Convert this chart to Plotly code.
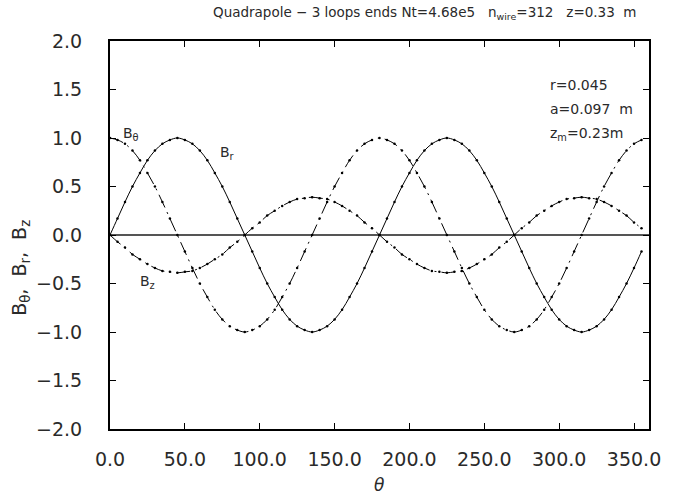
import plotly.graph_objects as go

theta = [0, 5, 10, 15, 20, 25, 30, 35, 40, 45, 50, 55, 60, 65, 70, 75, 80, 85,
         90, 95, 100, 105, 110, 115, 120, 125, 130, 135, 140, 145, 150, 155, 160, 165, 170, 175,
         180, 185, 190, 195, 200, 205, 210, 215, 220, 225, 230, 235, 240, 245, 250, 255, 260, 265,
         270, 275, 280, 285, 290, 295, 300, 305, 310, 315, 320, 325, 330, 335, 340, 345, 350, 355]

B_r = [0.00, 0.17, 0.34, 0.50, 0.64, 0.77, 0.87, 0.94, 0.98, 1.00, 0.98, 0.94, 0.87, 0.77, 0.64, 0.50, 0.34, 0.17,
       0.00, -0.17, -0.34, -0.50, -0.64, -0.77, -0.87, -0.94, -0.98, -1.00, -0.98, -0.94, -0.87, -0.77, -0.64, -0.50, -0.34, -0.17,
       0.00, 0.17, 0.34, 0.50, 0.64, 0.77, 0.87, 0.94, 0.98, 1.00, 0.98, 0.94, 0.87, 0.77, 0.64, 0.50, 0.34, 0.17,
       0.00, -0.17, -0.34, -0.50, -0.64, -0.77, -0.87, -0.94, -0.98, -1.00, -0.98, -0.94, -0.87, -0.77, -0.64, -0.50, -0.34, -0.17]

B_theta = [1.00, 0.98, 0.94, 0.87, 0.77, 0.64, 0.50, 0.34, 0.17, 0.00, -0.17, -0.34, -0.50, -0.64, -0.77, -0.87, -0.94, -0.98,
           -1.00, -0.98, -0.94, -0.87, -0.77, -0.64, -0.50, -0.34, -0.17, 0.00, 0.17, 0.34, 0.50, 0.64, 0.77, 0.87, 0.94, 0.98,
           1.00, 0.98, 0.94, 0.87, 0.77, 0.64, 0.50, 0.34, 0.17, 0.00, -0.17, -0.34, -0.50, -0.64, -0.77, -0.87, -0.94, -0.98,
           -1.00, -0.98, -0.94, -0.87, -0.77, -0.64, -0.50, -0.34, -0.17, 0.00, 0.17, 0.34, 0.50, 0.64, 0.77, 0.87, 0.94, 0.98]

B_z = [0.00, -0.07, -0.13, -0.20, -0.25, -0.30, -0.34, -0.37, -0.38, -0.39, -0.38, -0.37, -0.34, -0.30, -0.25, -0.20, -0.13, -0.07,
       0.00, 0.07, 0.13, 0.20, 0.25, 0.30, 0.34, 0.37, 0.38, 0.39, 0.38, 0.37, 0.34, 0.30, 0.25, 0.20, 0.13, 0.07,
       0.00, -0.07, -0.13, -0.20, -0.25, -0.30, -0.34, -0.37, -0.38, -0.39, -0.38, -0.37, -0.34, -0.30, -0.25, -0.20, -0.13, -0.07,
       0.00, 0.07, 0.13, 0.20, 0.25, 0.30, 0.34, 0.37, 0.38, 0.39, 0.38, 0.37, 0.34, 0.30, 0.25, 0.20, 0.13, 0.07]

x_ticks = [0, 50, 100, 150, 200, 250, 300, 350]
x_tick_text = ["0.0", "50.0", "100.0", "150.0", "200.0", "250.0", "300.0", "350.0"]
y_ticks = [-2.0, -1.5, -1.0, -0.5, 0.0, 0.5, 1.0, 1.5, 2.0]
y_tick_text = ["\u22122.0", "\u22121.5", "\u22121.0", "\u22120.5", "0.0", "0.5", "1.0", "1.5", "2.0"]

FONT = "DejaVu Sans"
TXT = "#2a2a2a"

fig = go.Figure()
styles = [
    (B_r, "solid"),
    (B_theta, "14px,5px,2px,5px"),
    (B_z, "14px,5px,2px,5px"),
]
for vals, dash in styles:
    fig.add_trace(go.Scatter(
        x=theta, y=vals, mode="lines+markers",
        line=dict(color="black", width=1, dash=dash, shape="spline", smoothing=1.0),
        marker=dict(color="black", size=2.5),
        showlegend=False, hoverinfo="skip",
    ))

axis_common = dict(
    showgrid=False, ticks="inside", ticklen=6, tickwidth=1, tickcolor="black",
    showline=True, linecolor="black", linewidth=2, mirror="ticks",
    tickfont=dict(family=FONT, size=19, color=TXT),
)

fig.update_layout(
    width=673, height=494,
    margin=dict(l=110, r=13, t=41, b=65),
    paper_bgcolor="white", plot_bgcolor="white",
    font=dict(family=FONT, color=TXT),
    xaxis=dict(range=[0, 360], tickvals=x_ticks, ticktext=x_tick_text,
               zeroline=False, ticklabelstandoff=12, **axis_common),
    yaxis=dict(range=[-2, 2], tickvals=y_ticks, ticktext=y_tick_text,
               zeroline=True, zerolinecolor="#555555", zerolinewidth=1.5,
               ticklabelstandoff=22, **axis_common),
)

annotations = [
    dict(text="Quadrapole \u2212 3 loops ends Nt=4.68e5   n<sub>wire</sub>=312   z=0.33  m",
         x=431, y=13, size=13.5),
    dict(text="r=0.045", x=557, y=85, size=14, xanchor="left"),
    dict(text="a=0.097  m", x=557, y=109, size=14, xanchor="left"),
    dict(text="z<sub>m</sub>=0.23m", x=557, y=134, size=14, xanchor="left"),
    dict(text="B<sub>\u03b8</sub>", x=121, y=134, size=14, xanchor="left"),
    dict(text="B<sub>r</sub>", x=220, y=153, size=14, xanchor="left"),
    dict(text="B<sub>z</sub>", x=139, y=282, size=14, xanchor="left"),
    dict(text="<i>\u03b8</i>", x=385, y=485, size=17),
]
W, H = 673, 494
L, R, T, B = 110, 13, 41, 65
pw, ph = W - L - R, H - T - B
for a in annotations:
    fig.add_annotation(
        text=a["text"], xref="paper", yref="paper",
        x=(a["x"] - L) / pw, y=(H - B - a["y"]) / ph,
        xanchor=a.get("xanchor", "center"), yanchor="middle",
        showarrow=False, font=dict(family=FONT, size=a["size"], color=TXT),
    )

fig.add_annotation(
    text="B<sub>\u03b8</sub>,  B<sub>r</sub>,  B<sub>z</sub>", xref="paper", yref="paper",
    x=(18 - L) / pw, y=(H - B - 268) / ph, textangle=-90,
    xanchor="center", yanchor="middle", showarrow=False,
    font=dict(family=FONT, size=19, color=TXT),
)

fig.write_html("out.html")
